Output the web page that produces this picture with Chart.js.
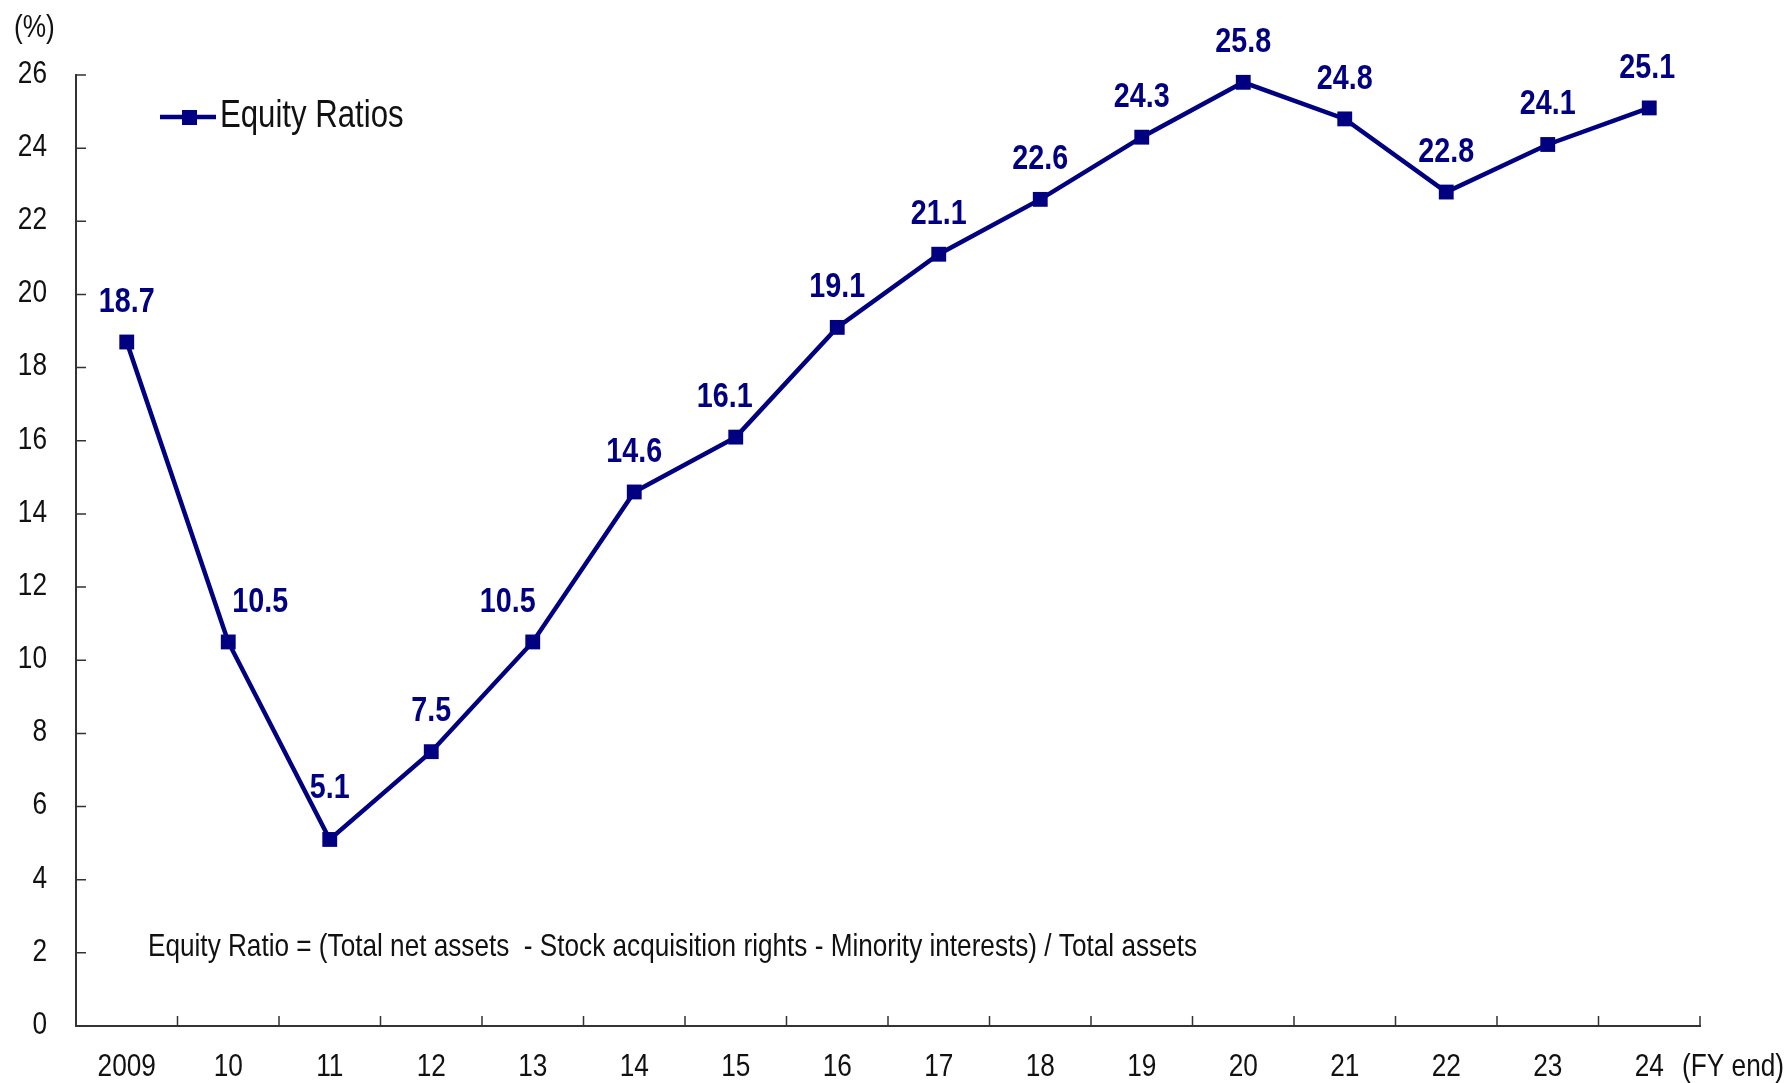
<!DOCTYPE html>
<html>
<head>
<meta charset="utf-8">
<title>Equity Ratios</title>
<script src="https://cdn.jsdelivr.net/npm/chart.js@4.4.1/dist/chart.umd.min.js"></script>
<style>
    html, body { margin: 0; padding: 0; background: #ffffff; }
    #wrap { width: 1789px; height: 1083px; position: relative; }
</style>
</head>
<body>
<div id="wrap"><canvas id="equityChart"></canvas></div>
<script>
// ===== DATA =====
const fiscalYears = ['2009', '10', '11', '12', '13', '14', '15', '16', '17', '18', '19', '20', '21', '22', '23', '24'];
const equityRatios = [18.7, 10.5, 5.1, 7.5, 10.5, 14.6, 16.1, 19.1, 21.1, 22.6, 24.3, 25.8, 24.8, 22.8, 24.1, 25.1];
const yTickValues = [0, 2, 4, 6, 8, 10, 12, 14, 16, 18, 20, 22, 24, 26];
const seriesName = 'Equity Ratios';
const yUnit = '(%)';
const xUnit = '(FY end)';
const footnote = 'Equity Ratio = (Total net assets  - Stock acquisition rights - Minority interests) / Total assets';

// small manual shifts for a few value labels so they clear the line
const labelNudge = [[0, 0], [32, 0], [0, -11], [0, 0], [-25, 0], [0, 0], [-11, 0], [0, 0],
                    [0, 0], [0, 0], [0, 0], [0, 0], [0, 0], [0, 0], [0, 0], [-2, 0]];

// ===== STYLE =====
const NAVY = '#000080';
const AXIS = '#333333';
const TEXT = '#111111';
const FONT = "'Liberation Sans', Arial, sans-serif";
const NARROW = 0.82;   // horizontal squeeze to get a narrow face out of Liberation Sans

// draws text squeezed horizontally around its anchor point
function narrowText(ctx, text, x, y, align, sx) {
    ctx.save();
    ctx.translate(x, y);
    ctx.scale(sx, 1);
    ctx.textAlign = align;
    ctx.fillText(text, 0, 0);
    ctx.restore();
}

// value labels above each point
const valueLabels = {
    id: 'valueLabels',
    afterDatasetsDraw(chart) {
        const ctx = chart.ctx;
        const meta = chart.getDatasetMeta(0);
        ctx.save();
        ctx.fillStyle = NAVY;
        ctx.font = 'bold 35px ' + FONT;
        ctx.textBaseline = 'middle';
        meta.data.forEach((pt, i) => {
            const n = labelNudge[i] || [0, 0];
            narrowText(ctx, equityRatios[i].toFixed(1), pt.x + n[0], pt.y - 40 + n[1], 'center', NARROW);
        });
        ctx.restore();
    }
};

// axis ticks (pointing inward), tick labels, units, legend and footnote
const extras = {
    id: 'extras',
    afterDraw(chart) {
        const ctx = chart.ctx;
        const area = chart.chartArea;
        const x = chart.scales.x;
        const y = chart.scales.y;
        ctx.save();

        ctx.strokeStyle = AXIS;
        ctx.lineWidth = 1.5;
        ctx.beginPath();
        // x ticks at category boundaries
        const bounds = [];
        for (let i = 0; i < fiscalYears.length - 1; i++) {
            bounds.push((x.getPixelForValue(i) + x.getPixelForValue(i + 1)) / 2);
        }
        bounds.push(area.right);
        bounds.forEach(bx => {
            ctx.moveTo(bx, area.bottom);
            ctx.lineTo(bx, area.bottom - 10);
        });
        // y ticks
        yTickValues.forEach(v => {
            const py = y.getPixelForValue(v);
            ctx.moveTo(area.left, py);
            ctx.lineTo(area.left + 10, py);
        });
        ctx.stroke();

        ctx.fillStyle = TEXT;
        ctx.textBaseline = 'middle';
        ctx.font = '32px ' + FONT;

        // tick labels
        fiscalYears.forEach((lab, i) => {
            narrowText(ctx, lab, x.getPixelForValue(i), area.bottom + 41, 'center', NARROW);
        });
        yTickValues.forEach(v => {
            narrowText(ctx, String(v), area.left - 29, y.getPixelForValue(v) - 1, 'right', NARROW);
        });

        // units
        narrowText(ctx, yUnit, 14, 28, 'left', NARROW);
        narrowText(ctx, xUnit, area.right - 18, area.bottom + 41, 'left', NARROW);

        // legend
        const ly = 117;
        ctx.strokeStyle = NAVY;
        ctx.lineWidth = 4.5;
        ctx.beginPath();
        ctx.moveTo(160, ly);
        ctx.lineTo(216, ly);
        ctx.stroke();
        ctx.fillStyle = NAVY;
        ctx.fillRect(182, ly - 7, 15, 15);
        ctx.fillStyle = TEXT;
        ctx.font = '38px ' + FONT;
        narrowText(ctx, seriesName, 220, ly, 'left', NARROW);

        // footnote, squeezed to span the same run as the formula line
        ctx.font = '32px ' + FONT;
        const fw = ctx.measureText(footnote).width;
        narrowText(ctx, footnote, 148, y.getPixelForValue(2.15), 'left', 1049 / fw);
        ctx.restore();
    }
};

const ctx = document.getElementById('equityChart').getContext('2d');
new Chart(ctx, {
    type: 'line',
    data: {
        labels: fiscalYears,
        datasets: [{
            label: seriesName,
            data: equityRatios,
            borderColor: NAVY,
            backgroundColor: NAVY,
            borderWidth: 4.5,
            pointStyle: 'rect',
            pointRadius: 10.5,
            pointBorderWidth: 0,
            pointBackgroundColor: NAVY,
            tension: 0,
            clip: false
        }]
    },
    options: {
        responsive: true,
        maintainAspectRatio: false,
        animation: false,
        layout: { padding: { left: 0, right: 89, top: 75, bottom: 0 } },
        plugins: {
            legend: { display: false },
            tooltip: { enabled: false }
        },
        scales: {
            x: {
                offset: true,
                afterFit: s => { s.height = 57; },
                grid: { display: false },
                border: { display: true, color: AXIS, width: 2 },
                ticks: { display: false }
            },
            y: {
                min: 0,
                max: 26,
                afterFit: s => { s.width = 76; },
                grid: { display: false },
                border: { display: true, color: AXIS, width: 2 },
                ticks: { display: false, stepSize: 2 }
            }
        }
    },
    plugins: [valueLabels, extras]
});
</script>
</body>
</html>
